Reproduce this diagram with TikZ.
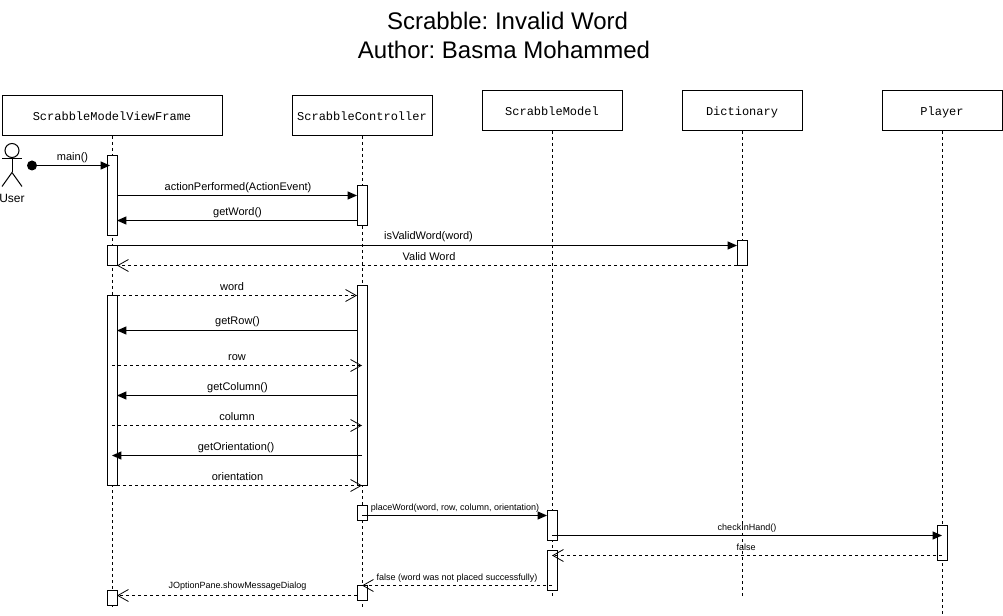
\documentclass[tikz,border=0pt]{standalone}
\usepackage{fontspec}
\setmainfont{Liberation Sans}
\setmonofont{Liberation Mono}
\usetikzlibrary{arrows.meta}
\tikzset{
  objbox/.style={draw,fill=white,line width=0.75pt,inner sep=0pt,minimum height=30pt,text height=8pt,text depth=0.5pt,font=\ttfamily\fontsize{9}{9}\selectfont},
  actbar/.style={draw,fill=white,line width=0.75pt,inner sep=0pt,minimum width=7.5pt},
  lifeline/.style={line width=0.75pt,dash pattern=on 2.25pt off 2.25pt},
  callmsg/.style={line width=0.75pt,-{Triangle[length=7pt,width=6pt]}},
  retmsg/.style={line width=0.75pt,dash pattern=on 2.25pt off 2.25pt,-{Straight Barb[length=8pt,width=9pt,line width=0.6pt]}},
  msgtext/.style={inner sep=0pt,font=\fontsize{8.25}{8.25}\selectfont},
  smalltext/.style={inner sep=0pt,font=\fontsize{6.75}{6.75}\selectfont},
}

\begin{document}
\frenchspacing
\begin{tikzpicture}[x=0.75pt,y=-0.75pt]

\def\u{0.75pt}
\def\xa{112}
\def\xb{362}
\def\xc{552}
\def\xd{742}
\def\xe{942}

\useasboundingbox (0,-0.5) rectangle (1003,615.5);

% title
\node[inner sep=0pt,font=\fontsize{18}{18}\selectfont] (title1) at (507.5,20) {Scrabble: Invalid Word};
\node[inner sep=0pt,font=\fontsize{18}{18}\selectfont] (title2) at (504,49) {Author: Basma Mohammed};

% objects
\node[objbox,minimum width=220*\u] (frame) at (\xa,115) {ScrabbleModelViewFrame};
\node[objbox,minimum width=140*\u] (ctrl) at (\xb,115) {ScrabbleController};
\node[objbox,minimum width=140*\u] (model) at (\xc,110) {ScrabbleModel};
\node[objbox,minimum width=120*\u] (dict) at (\xd,110) {Dictionary};
\node[objbox,minimum width=120*\u] (player) at (\xe,110) {Player};

% lifelines
\coordinate (frameend) at (\xa,606);
\coordinate (ctrlend) at (\xb,606);
\coordinate (modelend) at (\xc,596);
\coordinate (dictend) at (\xd,596);
\coordinate (playerend) at (\xe,613);
\draw[lifeline] (frame) -- (frameend);
\draw[lifeline] (ctrl) -- (ctrlend);
\draw[lifeline] (model) -- (modelend);
\draw[lifeline] (dict) -- (dictend);
\draw[lifeline] (player) -- (playerend);

% activation bars
\node[actbar,minimum height=80*\u] (fa) at (\xa,195) {};
\node[actbar,minimum height=20*\u] (fb) at (\xa,255) {};
\node[actbar,minimum height=190*\u] (fc) at (\xa,390) {};
\node[actbar,minimum height=15*\u] (fd) at (\xa,597.5) {};
\node[actbar,minimum height=40*\u] (ca) at (\xb,205) {};
\node[actbar,minimum height=200*\u] (cb) at (\xb,385) {};
\node[actbar,minimum height=15*\u] (cc) at (\xb,512.5) {};
\node[actbar,minimum height=15*\u] (cd) at (\xb,592.5) {};
\node[actbar,minimum height=30*\u] (ma) at (\xc,525) {};
\node[actbar,minimum height=40*\u] (mb) at (\xc,570) {};
\node[actbar,minimum height=25*\u] (da) at (\xd,252.5) {};
\node[actbar,minimum height=35*\u] (pa) at (\xe,542.5) {};

% user
\draw[line width=0.75pt] (12,150) circle (7);
\draw[line width=0.75pt] (2,158) -- (22,158);
\draw[line width=0.75pt] (12,157) -- (12,172);
\draw[line width=0.75pt] (2,186) -- (12,172) -- (22,186);
\node[msgtext,font=\fontsize{9}{9}\selectfont] (user) at (12,198) {User};
\node[circle,fill=black,inner sep=0pt,minimum size=7.5pt] (start) at (32,165) {};

% message ends
\coordinate (mainto) at (110,165);
\coordinate (apfrom) at (117,195);
\coordinate (apto) at (357,195);
\coordinate (gwfrom) at (357,220);
\coordinate (gwto) at (117,220);
\coordinate (ivfrom) at (117,245);
\coordinate (ivto) at (737,245);
\coordinate (vwfrom) at (737,265);
\coordinate (vwto) at (117,265);
\coordinate (wdfrom) at (117,295);
\coordinate (wdto) at (357,295);
\coordinate (grfrom) at (357,330);
\coordinate (grto) at (117,330);
\coordinate (rwfrom) at (112,365);
\coordinate (rwto) at (362,365);
\coordinate (gcfrom) at (357,395);
\coordinate (gcto) at (117,395);
\coordinate (clfrom) at (112,425);
\coordinate (clto) at (362,425);
\coordinate (gofrom) at (362,455);
\coordinate (goto) at (112,455);
\coordinate (orfrom) at (117,485);
\coordinate (orto) at (362,485);
\coordinate (pwfrom) at (362,515);
\coordinate (pwto) at (547,515);
\coordinate (chfrom) at (552,535);
\coordinate (chto) at (942,535);
\coordinate (fafrom) at (942,555);
\coordinate (fato) at (552,555);
\coordinate (fbfrom) at (552,585);
\coordinate (fbto) at (362,585);
\coordinate (jofrom) at (357,595);
\coordinate (joto) at (117,595);

% messages
\draw[callmsg] (start) -- (mainto);
\draw[callmsg] (apfrom) -- (apto);
\draw[callmsg] (gwfrom) -- (gwto);
\draw[callmsg] (ivfrom) -- (ivto);
\draw[retmsg] (vwfrom) -- (vwto);
\draw[retmsg] (wdfrom) -- (wdto);
\draw[callmsg] (grfrom) -- (grto);
\draw[retmsg] (rwfrom) -- (rwto);
\draw[callmsg] (gcfrom) -- (gcto);
\draw[retmsg] (clfrom) -- (clto);
\draw[callmsg] (gofrom) -- (goto);
\draw[retmsg] (orfrom) -- (orto);
\draw[callmsg] (pwfrom) -- (pwto);
\draw[callmsg] (chfrom) -- (chto);
\draw[retmsg] (fafrom) -- (fato);
\draw[retmsg] (fbfrom) -- (fbto);
\draw[retmsg] (jofrom) -- (joto);

% message labels
\node[msgtext] (lmain) at (72.5,156.7) {main()};
\node[msgtext] (lap) at (238,186.7) {actionPerformed(ActionEvent)};
\node[msgtext] (lgw) at (237.5,212.2) {getWord()};
\node[msgtext] (liv) at (428.5,236.2) {isValidWord(word)};
\node[msgtext] (lvw) at (429,256) {Valid Word};
\node[msgtext] (lwd) at (232,286) {word};
\node[msgtext] (lgr) at (237.5,321.2) {getRow()};
\node[msgtext] (lrw) at (237,356.7) {row};
\node[msgtext] (lgc) at (237.5,386.7) {getColumn()};
\node[msgtext] (lcl) at (237,416) {column};
\node[msgtext] (lgo) at (236,446.7) {getOrientation()};
\node[msgtext] (lor) at (237.5,476) {orientation};
\node[smalltext] (lpw) at (455,507.7) {placeWord(word, row, column, orientation)};
\node[smalltext] (lch) at (747,527.7) {checkInHand()};
\node[smalltext] (lfa) at (746,547) {false};
\node[smalltext] (lfb) at (457,577.7) {false (word was not placed successfully)};
\node[smalltext] (ljo) at (237.5,586) {JOptionPane.showMessageDialog};

\end{tikzpicture}
\end{document}
